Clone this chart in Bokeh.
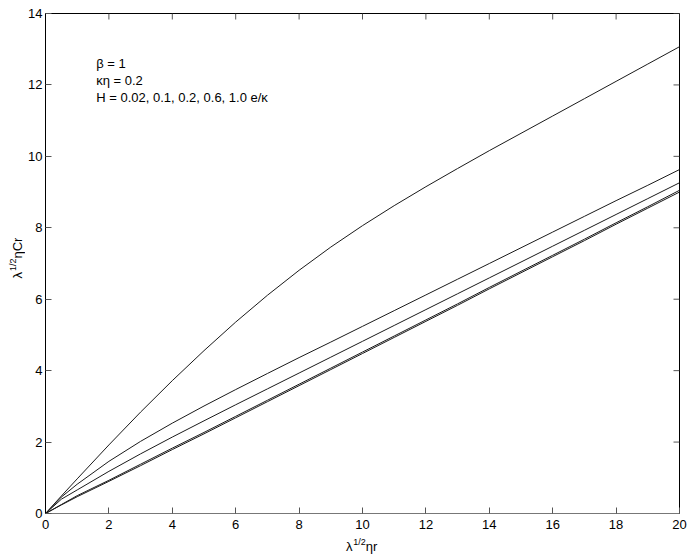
import math
from bokeh.plotting import figure
from bokeh.layouts import row, column
from bokeh.models import LinearAxis, FixedTicker, Label, Range1d
from bokeh.core.properties import value
from bokeh.embed import file_html
from bokeh.resources import INLINE

# Curves for H = 0.02, 0.1, 0.2, 0.6, 1.0 e/kappa
x_vals = [0, 0.5, 1, 2, 3, 4, 5, 6, 7, 8, 9, 10, 11, 12, 13, 14, 15, 16, 17, 18, 19, 20]
curve_a = [0, 0.49, 0.97, 1.92, 2.84, 3.72, 4.56, 5.36, 6.11, 6.81, 7.46, 8.06, 8.62, 9.15, 9.66, 10.16, 10.645, 11.13, 11.615, 12.10, 12.585, 13.07]
curve_b = [0, 0.46, 0.82, 1.46, 2.02, 2.53, 3.01, 3.47, 3.92, 4.365, 4.80, 5.24, 5.68, 6.12, 6.56, 7.00, 7.44, 7.88, 8.32, 8.76, 9.19, 9.63]
curve_c = [0, 0.40, 0.66, 1.18, 1.67, 2.14, 2.595, 3.045, 3.489, 3.933, 4.377, 4.821, 5.265, 5.709, 6.153, 6.597, 7.041, 7.485, 7.929, 8.373, 8.817, 9.261]
curve_d = [0, 0.25, 0.50, 0.93, 1.38, 1.83, 2.27, 2.72, 3.17, 3.62, 4.07, 4.52, 4.97, 5.42, 5.87, 6.33, 6.78, 7.23, 7.68, 8.14, 8.59, 9.05]
curve_e = [0, 0.24, 0.47, 0.90, 1.34, 1.79, 2.23, 2.68, 3.13, 3.58, 4.03, 4.48, 4.93, 5.38, 5.83, 6.29, 6.74, 7.19, 7.64, 8.10, 8.55, 9.00]

x_ticks = list(range(0, 21, 2))
y_ticks = list(range(0, 15, 2))
annotations = ["β = 1", "κη = 0.2", "H = 0.02, 0.1, 0.2, 0.6, 1.0 e/κ"]
x_label_parts = ["λ", "1/2", "ηr"]
y_label_parts = ["λ", "1/2", "ηCr"]

FONT = "Liberation Sans"
LINE = "#1a1a1a"
TICK = "#555555"

YLAB_W = 25
MAIN_W = 692 - YLAB_W
MAIN_H = 535
XLAB_H = 559 - MAIN_H
BL, BR, BT, BB = 20, 13, 13, 22

xr = Range1d(x_ticks[0], x_ticks[-1])
yr_ = Range1d(y_ticks[0], y_ticks[-1])

p = figure(width=MAIN_W, height=MAIN_H, output_backend="svg", toolbar_location=None,
           x_range=xr, y_range=yr_,
           min_border_left=BL, min_border_right=BR, min_border_top=BT, min_border_bottom=BB,
           x_axis_location=None, y_axis_location=None)
p.grid.visible = False
p.outline_line_color = "black"
p.outline_line_width = 1

def style_axis(ax, ticks, line_color):
    ax.ticker = FixedTicker(ticks=ticks)
    ax.major_tick_in = 6
    ax.major_tick_out = 0
    ax.minor_tick_line_color = None
    ax.major_tick_line_color = TICK
    ax.axis_line_color = line_color
    ax.axis_line_width = 1
    ax.major_label_text_font = FONT
    ax.major_label_text_font_size = "13px"
    ax.major_label_text_color = "black"

xb = LinearAxis(); style_axis(xb, x_ticks, "#777777"); xb.major_label_standoff = 6
yl = LinearAxis(); style_axis(yl, y_ticks, "black"); yl.major_label_standoff = 3
p.add_layout(xb, "below")
p.add_layout(yl, "left")

# mirrored inward ticks on the top and right edges of the box
p.ray(x=x_ticks, y=[y_ticks[-1]] * len(x_ticks), length=6, length_units="screen",
      angle=-math.pi / 2, line_color=TICK, line_width=1)
p.ray(x=[x_ticks[-1]] * len(y_ticks), y=y_ticks, length=6, length_units="screen",
      angle=math.pi, line_color=TICK, line_width=1)

for ys in [curve_a, curve_b, curve_c, curve_d, curve_e]:
    p.line(x_vals, ys, line_color=LINE, line_width=1)

for i, t in enumerate(annotations):
    p.add_layout(Label(x=1.6, y=12.6 - 0.47 * i, text=t, text_font=FONT,
                       text_font_size="13px", text_baseline="middle", text_color="black"))

# y-axis title figure (rotated text, shares the y range)
fy = figure(width=YLAB_W, height=MAIN_H, output_backend="svg", toolbar_location=None,
            x_range=Range1d(0, YLAB_W), y_range=yr_,
            min_border_left=0, min_border_right=0, min_border_top=BT, min_border_bottom=BB,
            x_axis_location=None, y_axis_location=None)
fy.grid.visible = False
fy.outline_line_color = None
fy.text(x=[16.5, 12, 16.5], y=[6.58, 6.79, 7.14], text=y_label_parts, angle=math.pi / 2,
        text_font=value(FONT), text_font_size=["13px", "9px", "13px"],
        text_baseline="middle", text_align="left", text_color="black")

# x-axis title figure (shares the x range)
fx = figure(width=MAIN_W, height=XLAB_H, output_backend="svg", toolbar_location=None,
            x_range=xr, y_range=Range1d(0, XLAB_H),
            min_border_left=BL, min_border_right=BR, min_border_top=0, min_border_bottom=0,
            x_axis_location=None, y_axis_location=None)
fx.grid.visible = False
fx.outline_line_color = None
fx.text(x=[9.48, 9.71, 10.10], y=[13, 18, 13], text=x_label_parts,
        text_font=value(FONT), text_font_size=["13px", "9px", "13px"],
        text_baseline="middle", text_align="left", text_color="black")

layout = row(fy, column(p, fx, spacing=0), spacing=0)
open("out.html", "w").write(file_html(layout, INLINE))
